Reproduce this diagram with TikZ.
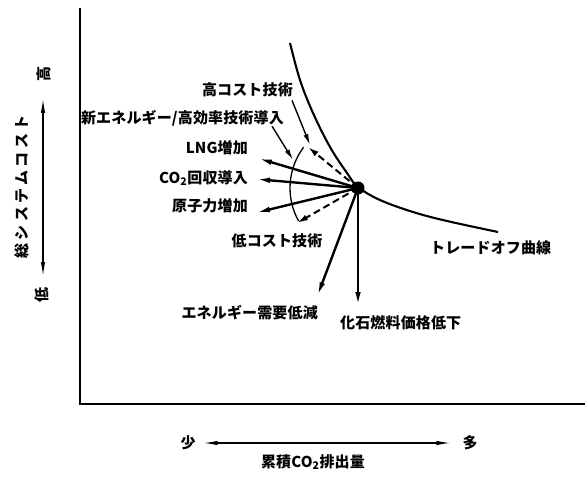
\documentclass[tikz,border=0pt]{standalone}
\usepackage{fontspec}
\usetikzlibrary{arrows.meta}
\newfontfamily\jp{Noto Sans CJK JP}[LetterSpace=1]
\newfontfamily\jpwide{Noto Sans CJK JP}[LetterSpace=22]
\tikzset{
  lbl/.style={font=\jp\bfseries\fontsize{15}{17}\selectfont, inner sep=0pt},
  axis/.style={line width=1.8pt},
  arr/.style={line width=2.4pt, -{Latex[length=15pt,width=5.5pt]}},
  darr/.style={line width=2pt, dash pattern=on 7pt off 4pt, -{Latex[length=11pt,width=6pt]}},
  lead/.style={line width=1.4pt, -{Latex[length=11pt,width=5pt]}},
  dblarr/.style={line width=1.5pt, {Latex[length=15pt,width=4.5pt]}-{Latex[length=15pt,width=4.5pt]}},
}
\begin{document}
\begin{tikzpicture}[x=1pt,y=-1pt]
\useasboundingbox (0,0) rectangle (585,478);
% axes
\coordinate (O) at (80,404);
\coordinate (Ytop) at (80,8);
\coordinate (Xend) at (585,404);
\draw[axis] (Ytop) -- (O) -- (Xend);
% y axis labels
\node[lbl, rotate=90] (hi) at (44,74) {高};
\node[lbl, rotate=90] (lo) at (42,295) {低};
\coordinate (ya) at (43,98);
\coordinate (yb) at (43,277);
\draw[dblarr] (ya) -- (yb);
\node[lbl, font=\jpwide\bfseries\fontsize{15}{17}\selectfont, rotate=90] (ylab) at (22,187) {総システムコスト};
% x axis labels
\node[lbl] (few) at (188,443) {少};
\node[lbl] (many) at (470,443) {多};
\draw[dblarr] ([xshift=7pt]few.east) -- ([xshift=-11pt]many.west);
\node[lbl] (xlab) at (313,462) {累積CO\textsubscript{2}排出量};
% trade-off curve
\draw[line width=2.1pt] plot[smooth, tension=0.6] coordinates {(290,43) (300,80) (313,113) (330,147) (347,173) (358,187) (380,200) (413,212) (447,221) (498,232)};
\node[lbl, anchor=west] (curve) at (430,248) {トレードオフ曲線};
% point
\node[circle, fill, inner sep=0pt, minimum size=13pt] (P) at (358,188) {};
% arc
\draw[line width=1.3pt] (P.center) ++(217:68) coordinate (arcA) arc[start angle=217, end angle=151, radius=68] coordinate (arcB);
% end points
\coordinate (tH) at (308,147);
\coordinate (tL) at (297,223);
\coordinate (tLNG) at (257,158);
\coordinate (tCO) at (255,179);
\coordinate (tNu) at (255,213);
\coordinate (tDem) at (317,297);
\coordinate (tFos) at (358,307);
\coordinate (tNew) at (293,160);
\coordinate (tHC) at (310,145);
% labels
\node[lbl, anchor=east] (hc) at (293,90) {高コスト技術};
\node[lbl, anchor=east] (ne) at (284,118) {新エネルギー/高効率技術導入};
\node[lbl, anchor=east] (lng) at (248,148) {LNG増加};
\node[lbl, anchor=east] (co) at (248,178) {CO\textsubscript{2}回収導入};
\node[lbl, anchor=east] (nu) at (248,206) {原子力増加};
\node[lbl] (lc) at (277,241) {低コスト技術};
\node[lbl, anchor=east] (dem) at (318,313) {エネルギー需要低減};
\node[lbl, anchor=west] (fos) at (340,323) {化石燃料価格低下};
% arrows
\draw[darr] (P.center) -- (tH);
\draw[darr] (P.center) -- (tL);
\draw[arr] (P.center) -- (tLNG);
\draw[arr] (P.center) -- (tCO);
\draw[arr] (P.center) -- (tNu);
\draw[arr] (P.center) -- (tDem);
\draw[arr] (P.center) -- (tFos);
\draw[lead] ([shift={(-1pt,-3pt)}]hc.south east) -- (tHC);
\draw[lead] ([xshift=-12pt]ne.south east) -- (tNew);
\end{tikzpicture}
\end{document}
